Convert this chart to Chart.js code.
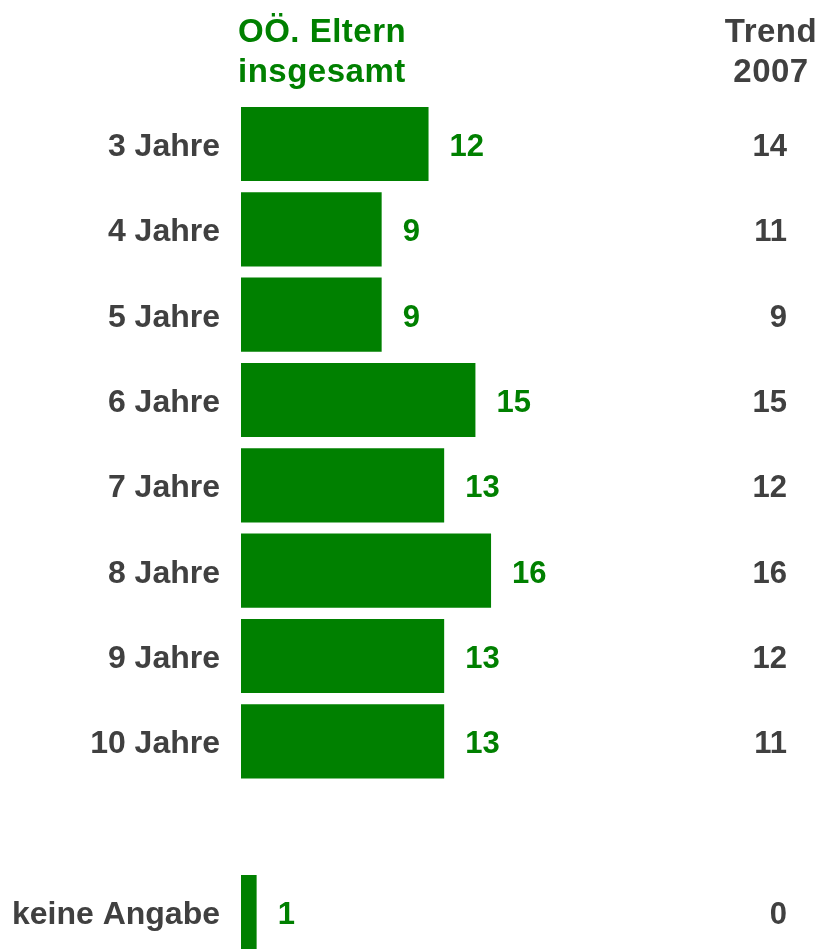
<!DOCTYPE html>
<html>
<head>
<meta charset="utf-8">
<script src="https://cdn.jsdelivr.net/npm/chart.js@4"></script>
<style>
  html, body { margin: 0; padding: 0; background: #fff; overflow: hidden; }
  #wrap { position: relative; width: 823px; height: 950px; }
</style>
</head>
<body>
<div id="wrap"><canvas id="chart"></canvas></div>
<script>
// data
const categories = ["3 Jahre", "4 Jahre", "5 Jahre", "6 Jahre", "7 Jahre", "8 Jahre", "9 Jahre", "10 Jahre", "", "keine Angabe"];
const totalValues = [12, 9, 9, 15, 13, 16, 13, 13, null, 1];
const trendValues = [14, 11, 9, 15, 12, 16, 12, 11, null, 0];
const headerTotal = ["OÖ. Eltern", "insgesamt"];
const headerTrend = ["Trend", "2007"];

const GREEN = "#008000";
const GREY = "#404040";
const FAMILY = "'Liberation Sans', Arial, sans-serif";

// draws headers, category labels, values and the trend column
const labelPlugin = {
    id: "labels",
    afterDatasetsDraw(chart) {
        const ctx = chart.ctx;
        const x = chart.scales.x;
        const y = chart.scales.y;
        ctx.save();
        ctx.textBaseline = "alphabetic";

        // headers
        ctx.font = "bold 33px " + FAMILY;
        ctx.letterSpacing = "0.5px";
        ctx.fillStyle = GREEN;
        ctx.textAlign = "left";
        ctx.fillText(headerTotal[0], x.left - 3, 42);
        ctx.fillText(headerTotal[1], x.left - 3, 82);
        ctx.fillStyle = GREY;
        ctx.textAlign = "center";
        ctx.fillText(headerTrend[0], 771, 42);
        ctx.fillText(headerTrend[1], 771, 82);
        ctx.letterSpacing = "0px";

        categories.forEach((cat, i) => {
            if (totalValues[i] === null) return;
            const cy = y.getPixelForValue(i) + 12;

            ctx.font = "bold 32px " + FAMILY;
            ctx.fillStyle = GREY;
            ctx.textAlign = "right";
            ctx.fillText(cat, x.left - 21, cy);

            ctx.font = "bold 31px " + FAMILY;
            ctx.fillStyle = GREEN;
            ctx.textAlign = "left";
            ctx.fillText(String(totalValues[i]), x.getPixelForValue(totalValues[i]) + 21, cy);

            ctx.fillStyle = GREY;
            ctx.textAlign = "right";
            ctx.fillText(String(trendValues[i]), 787, cy);
        });
        ctx.restore();
    }
};

new Chart(document.getElementById("chart"), {
    type: "bar",
    data: {
        labels: categories,
        datasets: [{
            data: totalValues,
            backgroundColor: GREEN,
            borderWidth: 0,
            barPercentage: 0.87,
            categoryPercentage: 1,
            clip: false
        }]
    },
    options: {
        indexAxis: "y",
        responsive: true,
        maintainAspectRatio: false,
        animation: false,
        layout: {
            padding: { left: 241, right: 35, top: 144, bottom: 38 }
        },
        scales: {
            x: { display: false, min: 0, max: 35 },
            y: { display: false, offset: false }
        },
        plugins: {
            legend: { display: false },
            tooltip: { enabled: false }
        }
    },
    plugins: [labelPlugin]
});
</script>
</body>
</html>
